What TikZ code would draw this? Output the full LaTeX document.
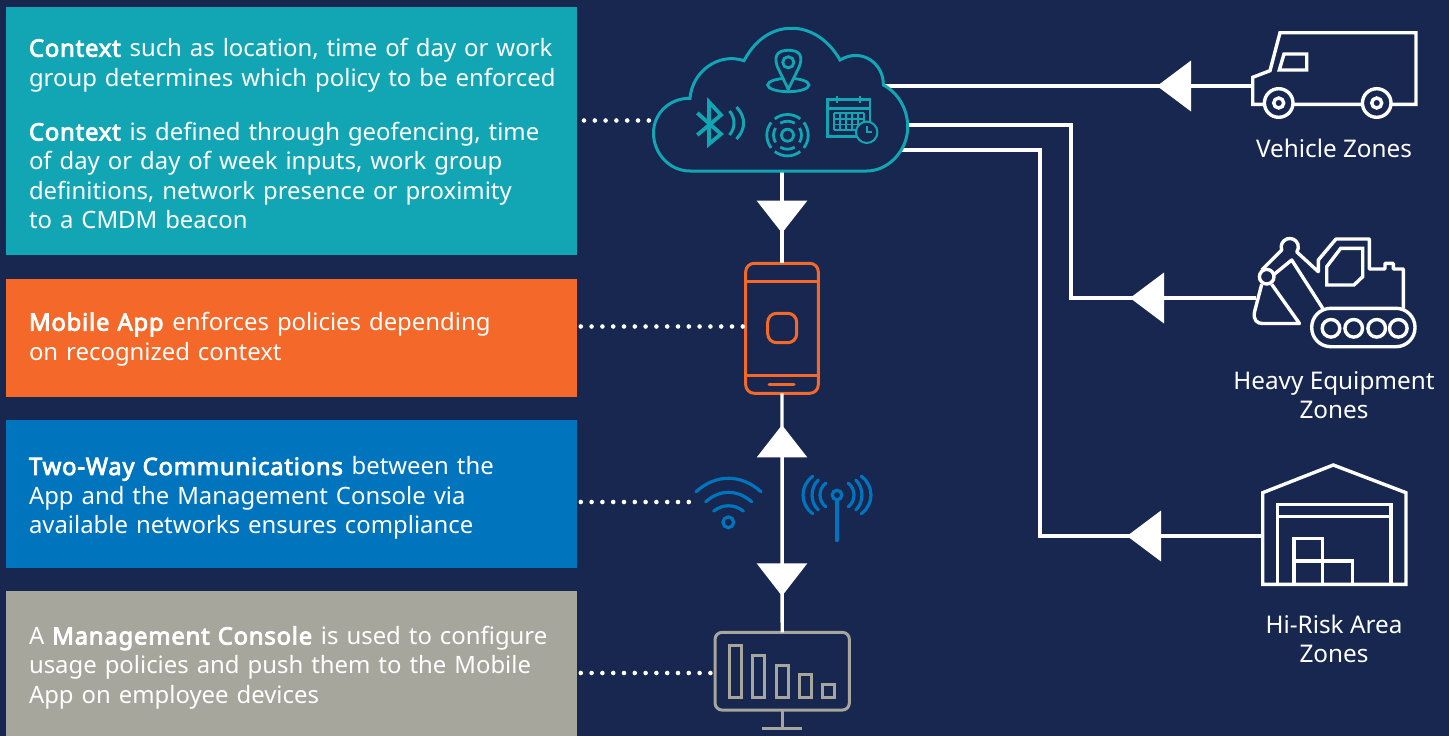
\documentclass[tikz,border=0pt]{standalone}
\usepackage{fontspec}
\setmainfont{Noto Sans}[BoldFont={Noto Sans}, BoldFeatures={FakeBold=3.5, LetterSpace=3.2}]
\usetikzlibrary{positioning,calc}

\definecolor{navy}{HTML}{17274F}
\definecolor{teal}{HTML}{12A6B5}
\definecolor{flame}{HTML}{F4682A}
\definecolor{ocean}{HTML}{0074BD}
\definecolor{stone}{HTML}{A6A69D}

\begin{document}
\begin{tikzpicture}[
    x=1pt, y=-1pt,
    % Define styles for different types of blocks
    text_block/.style={
        rectangle,
        text=white,
        align=left,
        text width=525pt,
        inner xsep=23pt,
        inner ysep=0pt,
        outer sep=0pt,
        font=\fontsize{23.9}{29.4}\selectfont
    },
    zone_label/.style={
        text=white,
        align=center,
        inner sep=0pt,
        font=\fontsize{24.3}{29.4}\selectfont
    },
    line/.style={
        draw=white,
        line width=3.4pt
    },
    head/.style={
        fill=white
    },
    dots/.style={
        draw=white,
        line width=4.6pt,
        line cap=round,
        dash pattern=on 0pt off 10.8pt
    },
    zone_icon/.style={
        draw=white,
        line width=3.4pt,
        line join=miter
    },
    cloud_icon/.style={
        draw=teal,
        line width=2.8pt
    },
    wave_icon/.style={
        draw=ocean,
        line width=3.2pt,
        line cap=round
    },
    chart_bar/.style={
        draw=stone,
        line width=3pt
    }
]

\fill[navy] (0,0) rectangle (1449,736);
\useasboundingbox (0,0) rectangle (1449,736);

% Place the blocks
\node[text_block, fill=teal, minimum height=248pt, anchor=north west] (context) at (6,7) {%
    \rule{0pt}{23.5pt}\textbf{Context} such as location, time of day or work\\
    \mbox{group determines which policy to be enforced}\\[25pt]
    \textbf{Context} is defined through geofencing, time\\
    of day or day of week inputs, work group\\
    definitions, network presence or proximity\\
    to a CMDM beacon};
\node[text_block, fill=flame, minimum height=118pt, below=24pt of context] (mobile) {%
    \rule{0pt}{20.5pt}\textbf{Mobile App} enforces policies depending\\
    on recognized context};
\node[text_block, fill=ocean, minimum height=148pt, below=23pt of mobile] (twoway) {%
    \rule{0pt}{26.5pt}\textbf{Two-Way Communications} between the\\
    App and the Management Console via\\
    available networks ensures compliance};
\node[text_block, fill=stone, minimum height=145pt, below=23pt of twoway] (console) {%
    \rule{0pt}{26.5pt}A \textbf{Management Console} is used to configure\\
    usage policies and push them to the Mobile\\
    App on employee devices};

% Phone and monitor
\node[draw=flame, line width=3pt, rounded corners=8.5pt, inner sep=0pt, outer sep=0pt,
    minimum width=72.6pt, minimum height=130pt] (phone) at (782,328.3) {};
\node[draw=stone, line width=3pt, rounded corners=7pt, inner sep=0pt, outer sep=0pt,
    minimum width=134.3pt, minimum height=77.7pt] (screen) at (782.2,671.2) {};

% Named ends of the connectors
\coordinate (cloud_top) at (885,86);
\coordinate (cloud_mid) at (907,125);
\coordinate (cloud_low) at (900,150);
\coordinate (cloud_out) at (782,171);
\coordinate (truck_in) at (1253,86);
\coordinate (digger_in) at (1256,298);
\coordinate (shed_in) at (1263,536);
\coordinate (bus_mid) at (1071,125);
\coordinate (bus_low) at (1040,150);
\coordinate (cloud_dots) at (650,120.5);
\coordinate (context_dots) at (584,120.5);
\coordinate (mobile_dots) at (580.8,326.5);
\coordinate (phone_dots) at (743,326.5);
\coordinate (twoway_dots) at (580.8,502);
\coordinate (wifi_dots) at (690,502);
\coordinate (console_dots) at (580.8,673);
\coordinate (screen_dots) at (711,673);

% Draw the connections
\draw[line] (cloud_out) -- (phone.north);
\draw[line] (phone.south) -- (screen.north);
\draw[line] (cloud_top) -- (truck_in);
\draw[line] (cloud_mid) -- (bus_mid) |- (digger_in);
\draw[line] (cloud_low) -- (bus_low) |- (shed_in);

% Triangles on the connections
\fill[head] (782,233) -- (756.7,200.7) -- (807.3,200.7) -- cycle;
\fill[head] (782,425) -- (756.7,457.4) -- (807.3,457.4) -- cycle;
\fill[head] (782,596) -- (756.7,563.4) -- (807.3,563.4) -- cycle;
\fill[head] (1157,86) -- (1191,60.5) -- (1191,111.5) -- cycle;
\fill[head] (1130,298) -- (1164,272.5) -- (1164,323.5) -- cycle;
\fill[head] (1127,536) -- (1161,510.5) -- (1161,561.5) -- cycle;

% Dotted leaders
\draw[dots] (context_dots) -- (cloud_dots);
\draw[dots] (mobile_dots) -- (phone_dots);
\draw[dots] (twoway_dots) -- (wifi_dots);
\draw[dots] (console_dots) -- (screen_dots);

% Cloud
\draw[cloud_icon, line width=3pt, fill=navy]
    (690,171) .. controls (669,171) and (653.5,153) .. (653.5,133)
    .. controls (653.5,113) and (670,98) .. (690,98.3)
    .. controls (692,72) and (718,52) .. (744,60.7)
    .. controls (755,40) and (772,28) .. (791.7,28.3)
    .. controls (812,28) and (830,42) .. (840,60)
    .. controls (862,47) and (884,64) .. (883.3,85)
    .. controls (897,92) and (907.7,108) .. (907.7,127)
    .. controls (907.7,151) and (888,171) .. (866.7,171) -- cycle;

% Location pin
\draw[cloud_icon] (788.3,85) ellipse [x radius=20.7, y radius=6.7];
\draw[cloud_icon, fill=navy] (788.3,89.3) -- (777.5,67) .. controls (772,52) and (782,50.3) .. (788.3,50.3)
    .. controls (795,50.3) and (805,52) .. (799.1,67) -- cycle;
\draw[cloud_icon] (788.3,62.3) circle (5.6);

% Bluetooth
\draw[cloud_icon, line width=3.8pt] (697.3,135) -- (721,115) -- (709,102) -- (709,144) -- (721,134) -- (697.3,113);
\draw[cloud_icon, line width=3pt] (729.5,111) .. controls (735.5,118) and (735.5,128) .. (729.5,135);
\draw[cloud_icon, line width=3pt] (736.5,107) .. controls (746,117) and (746,129) .. (736.5,139);

% Beacon
\coordinate (beacon) at (787.5,135.2);
\draw[cloud_icon] (beacon) circle (6);
\foreach \ang in {0,90,180,270} {
    \draw[cloud_icon] ($(beacon)+(\ang-31:14pt)$) arc[start angle=\ang-31, end angle=\ang+31, radius=14pt];
    \draw[cloud_icon] ($(beacon)+(\ang-38:20.7pt)$) arc[start angle=\ang-38, end angle=\ang+38, radius=20.7pt];
}

% Calendar
\draw[cloud_icon] (827.3,99.3) rectangle (870,136.7);
\draw[cloud_icon] (827.3,108.3) -- (870,108.3);
\draw[cloud_icon, line width=2pt] (836.7,96) -- (836.7,103);
\draw[cloud_icon, line width=2pt] (860,96) -- (860,103);
\foreach \col in {834,840,846,852,858,864}
    \draw[cloud_icon, line width=1.8pt] (\col,113.3) -- (\col,130);
\foreach \row in {113.3,118.9,124.4,130}
    \draw[cloud_icon, line width=1.8pt] (834,\row) -- (864,\row);
\draw[cloud_icon, line width=2pt, fill=navy] (866.7,132.3) circle (10.7);
\draw[cloud_icon, line width=2pt] (866.7,125.7) -- (866.7,132.3) -- (872.3,132.3);

% Mobile App details
\draw[draw=flame, line width=3pt] (phone.west |- 0,281) -- (phone.east |- 0,281);
\draw[draw=flame, line width=3pt] (phone.west |- 0,375.3) -- (phone.east |- 0,375.3);
\draw[draw=flame, line width=3pt, line cap=round] (769,384) -- (794,384);
\draw[draw=flame, line width=3pt, rounded corners=9pt] (767.7,313.3) rectangle (796.7,342.7);

% Wifi
\draw[wave_icon] (696,491.7) .. controls (716,473.8) and (741,473.8) .. (761,491.7);
\draw[wave_icon] (705.7,501.7) .. controls (720,489.2) and (737,489.2) .. (751.7,501.7);
\draw[wave_icon] (713.7,511) .. controls (723,504) and (734,504) .. (743.3,511);
\draw[wave_icon] (728.3,522.3) circle (5.4);

% Antenna
\draw[wave_icon] (837,495) circle (4.8);
\draw[wave_icon] (837,500) -- (837,540.5);
\foreach \gap/\bulge/\half in {11.3/18.9/11.7, 18.7/27/15, 24.3/37.2/18.7} {
    \draw[wave_icon] (837-\gap,495-\half) .. controls (837-\bulge,495-\half/2) and (837-\bulge,495+\half/2) .. (837-\gap,495+\half);
    \draw[wave_icon] (837+\gap,495-\half) .. controls (837+\bulge,495-\half/2) and (837+\bulge,495+\half/2) .. (837+\gap,495+\half);
}

% Monitor details
\foreach \left/\high in {729.3/645, 752.7/655.7, 776/665.7, 799.3/674, 822.7/684.7}
    \draw[chart_bar] (\left,\high) rectangle (\left+12,697.7);
\draw[chart_bar] (screen.south) -- (782.2,728.3);
\draw[chart_bar] (762.3,728.3) -- (802,728.3);

% Truck
\draw[zone_icon, fill=navy] (1280,32.7) -- (1416,32.7) -- (1416,104.3) -- (1252.7,104.3) -- (1252.7,77.3) -- (1270,70.7) -- cycle;
\draw[zone_icon] (1284,54) -- (1306.7,54) -- (1306.7,70) -- (1279.3,70) -- cycle;
\foreach \wheel in {1278.7,1376.7} {
    \draw[zone_icon, fill=navy] (\wheel,103) circle (14.3);
    \draw[zone_icon] (\wheel,103) circle (5);
}

% Excavator
\draw[zone_icon, line join=round] (1261.7,270) -- (1281.7,250) arc[start angle=200, end angle=-35, radius=8.6pt]
    -- (1318.3,271.7) -- (1318.3,260) -- (1336,239) -- (1369.3,239) -- (1369.3,269) -- (1385,269)
    -- (1385,263.3) -- (1393.3,263.3) -- (1393.3,269) -- (1403.3,269) -- (1403.3,308.3);
\draw[zone_icon, line join=round] (1273.3,275) -- (1291.7,260) -- (1322.7,308.3);
\draw[zone_icon] (1266.7,276.7) circle (7.3);
\draw[zone_icon, line join=round] (1261.7,284.3) -- (1254.5,312) .. controls (1253,320) and (1257,323.5) .. (1262.5,323.5)
    -- (1299.5,323.5) -- (1271.7,284.3);
\draw[zone_icon] (1326.7,266.7) -- (1340.7,248.3) -- (1362.7,248.3) -- (1362.7,276.7) -- (1354,285) -- (1326.7,285) -- cycle;
\draw[zone_icon, rounded corners=19pt] (1311.7,308.3) rectangle (1415,346.7);
\foreach \wheel in {1331,1353.7,1376.7,1398.3}
    \draw[zone_icon] (\wheel,328.3) circle (8.8);

% Warehouse
\draw[zone_icon] (1262.7,584.3) -- (1262.7,492.7) -- (1333.3,465) -- (1406,492.7) -- (1406,584.3) -- cycle;
\draw[zone_icon] (1277.7,584.3) -- (1277.7,504.3) -- (1391,504.3) -- (1391,584.3);
\draw[zone_icon] (1277.7,516.3) -- (1391,516.3);
\draw[zone_icon] (1294,584.3) rectangle (1322.7,538.3);
\draw[zone_icon] (1294,561) -- (1352.7,561) -- (1352.7,584.3);

% Zone labels
\node[zone_label] (vehicle_label) at (1334,148) {Vehicle Zones};
\node[zone_label] (heavy_label) at (1334,395) {Heavy Equipment\\Zones};
\node[zone_label] (risk_label) at (1334,639) {Hi-Risk Area\\Zones};

\end{tikzpicture}
\end{document}
